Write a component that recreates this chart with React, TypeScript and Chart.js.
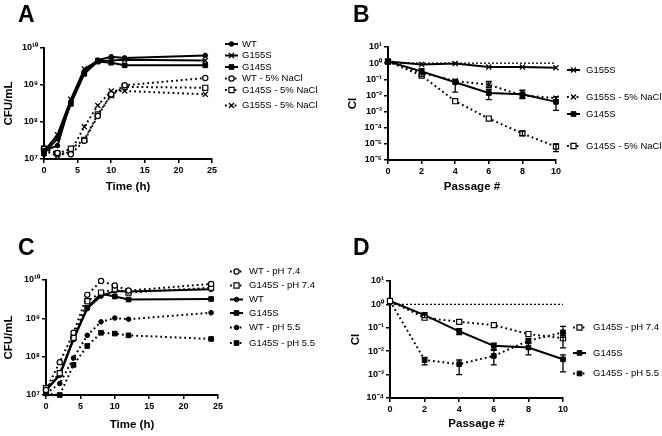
import React, { useEffect, useRef } from "react";
import { Chart, registerables } from "chart.js";
import { drawPoint } from "chart.js/helpers";

Chart.register(...registerables);

const FONT = "'Liberation Sans', Arial, Helvetica, sans-serif";
Chart.defaults.font.family = FONT;
Chart.defaults.color = "#000";

// ---------- Panel A: growth, 5% NaCl ----------
const hoursA = [0, 2, 4, 6, 8, 10, 12, 24];
const aWT = [1.7e7, 2.3e7, 3.6e8, 2.3e9, 4.7e9, 5.8e9, 5.4e9, 6.3e9];
const aG155S = [1.6e7, 4.5e7, 4.1e8, 2.7e9, 4.5e9, 4.6e9, 4.8e9, 4.6e9];
const aG145S = [1.4e7, 3.6e7, 3.1e8, 2.0e9, 4.3e9, 4.0e9, 3.4e9, 3.4e9];
const aWTNaCl = [1.9e7, 1.45e7, 1.35e7, 3.1e7, 1.45e8, 5.6e8, 9.8e8, 1.55e9];
const aG145SNaCl = [1.9e7, 1.4e7, 1.9e7, 3.3e7, 1.6e8, 5.3e8, 8.9e8, 8.4e8];
const aG155SNaCl = [1.7e7, 1.2e7, 1.6e7, 7.4e7, 2.8e8, 6.9e8, 6.9e8, 5.6e8];

// ---------- Panel B: competition index, 5% NaCl ----------
const passages = [0, 2, 4, 6, 8, 10];
const bG155S = [1.26, 0.83, 0.95, 0.57, 0.57, 0.52];
const bG155SNaCl = [1.26, 0.25, 0.078, 0.046, 0.010, 0.0068];
const bG155SNaClLo = [null, null, null, 0.030, 0.0075, 0.0052];
const bG155SNaClHi = [null, null, null, 0.074, 0.014, 0.0085];
const bG145S = [1.26, 0.31, 0.065, 0.014, 0.012, 0.004];
const bG145SLo = [null, 0.15, 0.016, 0.0055, 0.0063, 0.0012];
const bG145SHi = [null, 0.45, 0.10, 0.023, 0.021, 0.0081];
const bG145SNaCl = [1.26, 0.17, 0.0044, 3.7e-4, 4.4e-5, 6.7e-6];
const bG145SNaClLo = [null, null, null, null, 3.2e-5, 3.3e-6];
const bG145SNaClHi = [null, null, null, null, 6.2e-5, 9.8e-6];

// ---------- Panel C: growth, pH ----------
const hoursC = [0, 2, 4, 6, 8, 10, 12, 24];
const cWT74 = [1.35e7, 7.2e7, 4.2e8, 4.1e9, 9.4e9, 7.2e9, 5.3e9, 7.9e9];
const cG145S74 = [1.5e7, 3.7e7, 3.1e8, 2.8e9, 4.7e9, 5.7e9, 4.7e9, 6.3e9];
const cWT = [1.35e7, 3.3e7, 2.8e8, 1.8e9, 3.8e9, 5.2e9, 5.0e9, 5.7e9];
const cG145S = [1.3e7, 3.4e7, 3.0e8, 1.9e9, 4.4e9, 3.7e9, 3.1e9, 3.2e9];
const cWT55 = [1.1e7, 2.0e7, 9.2e7, 3.6e8, 8.1e8, 1.02e9, 9.5e8, 1.4e9];
const cG145S55 = [1.1e7, 1.0e7, 6.1e7, 1.9e8, 4.2e8, 4.0e8, 3.6e8, 2.9e8];

// ---------- Panel D: competition index, pH ----------
const dG145S74 = [1.4, 0.27, 0.18, 0.13, 0.054, 0.036];
const dG145S74Lo = [null, null, null, null, null, 0.014];
const dG145S74Hi = [null, null, null, null, null, 0.06];
const dG145S = [1.4, 0.35, 0.071, 0.017, 0.0144, 0.0045];
const dG145SLo = [null, 0.27, 0.051, 0.012, 0.0069, 0.0013];
const dG145SHi = [null, 0.44, 0.092, 0.022, 0.022, 0.0069];
const dG145S55 = [1.4, 0.0042, 0.0028, 0.0063, 0.028, 0.064];
const dG145S55Lo = [null, 0.0026, 0.001, 0.0026, 0.022, 0.039];
const dG145S55Hi = [null, 0.0055, 0.0042, 0.011, 0.034, 0.116];

// reference line CI = 1
const refX = [0, 10];
const refY = [1, 1];

type Mk = "dot" | "sq" | "ocirc" | "osq" | "x";

function markerStyle(mk: Mk) {
  switch (mk) {
    case "dot":
      return { style: "circle", r: 2.3, fill: "#000", bw: 1 };
      case "sq":
      return { style: "rect", r: 3.3, fill: "#000", bw: 1 };
    case "ocirc":
      return { style: "circle", r: 2.6, fill: "#fff", bw: 1.2 };
    case "osq":
      return { style: "rect", r: 3.6, fill: "#fff", bw: 1.2 };
    default:
      return { style: "crossRot", r: 3.6, fill: "#000", bw: 1.3 };
  }
}

function ds(label: string, xs: number[], ys: number[], dotted: boolean, mk: Mk, lo?: any[], hi?: any[]) {
  const m = markerStyle(mk);
  return {
    label,
    data: xs.map((x, i) => ({ x, y: ys[i] })),
    borderColor: "#000",
    borderWidth: 2,
    borderDash: dotted ? [1.8, 3] : [],
    pointStyle: m.style,
    pointRadius: m.r,
    pointBackgroundColor: m.fill,
    pointBorderColor: "#000",
    pointBorderWidth: m.bw,
    tension: 0,
    fill: false,
    clip: false,
    errLo: lo,
    errHi: hi,
  };
}

function refLine() {
  return {
    label: "",
    noLegend: true,
    data: refX.map((x, i) => ({ x, y: refY[i] })),
    borderColor: "#000",
    borderWidth: 1.2,
    borderDash: [2, 2],
    pointRadius: 0,
    fill: false,
    clip: false,
  };
}

const SUP: Record<string, string> = {
  "0": "⁰", "1": "¹", "2": "²", "3": "³", "4": "⁴",
  "5": "⁵", "6": "⁶", "7": "⁷", "8": "⁸", "9": "⁹", "-": "⁻",
};
function pow10(v: number) {
  const e = Math.round(Math.log10(v));
  return "10" + String(e).split("").map((c) => SUP[c] || c).join("");
}

const errorBars = {
  id: "errorBars",
  afterDatasetsDraw(chart: any) {
    const ctx = chart.ctx;
    const xs = chart.scales.x;
    const ys = chart.scales.y;
    chart.data.datasets.forEach((d: any) => {
      if (!d.errLo) return;
      d.data.forEach((p: any, i: number) => {
        const lo = d.errLo[i];
        const hi = d.errHi[i];
        if (lo == null || hi == null) return;
        const x = xs.getPixelForValue(p.x);
        const y1 = ys.getPixelForValue(lo);
        const y2 = ys.getPixelForValue(hi);
        ctx.save();
        ctx.strokeStyle = "#000";
        ctx.lineWidth = 1.3;
        ctx.setLineDash([]);
        ctx.beginPath();
        ctx.moveTo(x, y1);
        ctx.lineTo(x, y2);
        ctx.moveTo(x - 3, y1);
        ctx.lineTo(x + 3, y1);
        ctx.moveTo(x - 3, y2);
        ctx.lineTo(x + 3, y2);
        ctx.stroke();
        ctx.restore();
      });
    });
  },
};

const panelDeco = {
  id: "panelDeco",
  afterDraw(chart: any, _args: any, opts: any) {
    const ctx = chart.ctx;
    ctx.save();
    ctx.fillStyle = "#000";
    ctx.textAlign = "left";
    ctx.textBaseline = "alphabetic";
    ctx.font = `bold 23px ${FONT}`;
    ctx.fillText(opts.letter, opts.letterX, opts.letterY);
    ctx.font = `9.5px ${FONT}`;
    ctx.textBaseline = "middle";
    let k = 0;
    chart.data.datasets.forEach((d: any) => {
      if (d.noLegend) return;
      const y = opts.legendYs[k++];
      const x0 = opts.legendX;
      ctx.strokeStyle = "#000";
      ctx.lineWidth = 2;
      ctx.setLineDash(d.borderDash || []);
      ctx.beginPath();
      ctx.moveTo(x0, y);
      ctx.lineTo(x0 + 13, y);
      ctx.stroke();
      ctx.setLineDash([]);
      ctx.fillStyle = d.pointBackgroundColor;
      ctx.strokeStyle = "#000";
      ctx.lineWidth = d.pointBorderWidth;
      drawPoint(
        ctx,
        { pointStyle: d.pointStyle, radius: d.pointRadius, borderWidth: d.pointBorderWidth, rotation: 0 } as any,
        x0 + 6.5,
        y
      );
      ctx.fillStyle = "#000";
      ctx.fillText(d.label, opts.textX, y);
    });
    ctx.restore();
  },
};

const W = 331;
const H = 218;

type Geo = {
  L: number; R: number; T: number; B: number;
  yTitle: string; yTitlePad: number;
  xTitle: string; xTitlePad: number;
  xMax: number; xStep: number;
  yMin: number; yMax: number;
};

function makeConfig(g: Geo, datasets: any[], deco: any) {
  const tickFont = { size: 9, weight: "bold" as const, family: FONT };
  const titleFont = { size: 11.5, weight: "bold" as const, family: FONT };
  const grid = { drawOnChartArea: false, drawTicks: true, tickLength: 4, color: "#000", lineWidth: 1.5 };
  const border = { display: true, color: "#000", width: 2 };
  return {
    type: "line" as const,
    data: { datasets },
    plugins: [errorBars, panelDeco],
    options: {
      animation: false as const,
      responsive: false,
      events: [],
      layout: { padding: { left: 0, top: g.T, right: W - g.R, bottom: 0 } },
      plugins: {
        legend: { display: false },
        tooltip: { enabled: false },
        panelDeco: deco,
      },
      scales: {
        x: {
          type: "linear" as const,
          min: 0,
          max: g.xMax,
          afterFit: (s: any) => {
            s.height = H - g.B;
          },
          ticks: { stepSize: g.xStep, font: tickFont, color: "#000", padding: 2, maxRotation: 0 },
          grid,
          border,
          title: { display: true, text: g.xTitle, font: titleFont, color: "#000", padding: { top: 0, bottom: g.xTitlePad } },
        },
        y: {
          type: "logarithmic" as const,
          min: g.yMin,
          max: g.yMax,
          afterFit: (s: any) => {
            s.width = g.L;
          },
          afterBuildTicks: (s: any) => {
            const t: any[] = [];
            const e0 = Math.round(Math.log10(g.yMin));
            const e1 = Math.round(Math.log10(g.yMax));
            for (let e = e0; e <= e1; e++) t.push({ value: Math.pow(10, e) });
            s.ticks = t;
          },
          ticks: {
            callback: (v: any) => pow10(Number(v)),
            font: tickFont,
            color: "#000",
            padding: 2,
            autoSkip: false,
          },
          grid,
          border,
          title: { display: true, text: g.yTitle, font: titleFont, color: "#000", padding: { top: g.yTitlePad, bottom: 0 } },
        },
      },
    },
  };
}

function configA() {
  return makeConfig(
    { L: 44, R: 212, T: 48, B: 159, yTitle: "CFU/mL", yTitlePad: 2, xTitle: "Time (h)", xTitlePad: 24, xMax: 25, xStep: 5, yMin: 1e7, yMax: 1e10 },
    [
      ds("WT", hoursA, aWT, false, "dot"),
      ds("G155S", hoursA, aG155S, false, "x"),
      ds("G145S", hoursA, aG145S, false, "sq"),
      ds("WT - 5% NaCl", hoursA, aWTNaCl, true, "ocirc"),
      ds("G145S - 5% NaCl", hoursA, aG145SNaCl, true, "osq"),
      ds("G155S - 5% NaCl", hoursA, aG155SNaCl, true, "x"),
    ],
    { letter: "A", letterX: 18, letterY: 22, legendX: 225, textX: 242, legendYs: [44, 55.5, 67, 78.5, 90, 105.5] }
  );
}

function configB() {
  return makeConfig(
    { L: 57, R: 225, T: 47, B: 160, yTitle: "CI", yTitlePad: 15, xTitle: "Passage #", xTitlePad: 24, xMax: 10, xStep: 2, yMin: 1e-6, yMax: 10 },
    [
      refLine(),
      ds("G155S", passages, bG155S, false, "x"),
      ds("G155S - 5% NaCl", passages, bG155SNaCl, true, "x", bG155SNaClLo, bG155SNaClHi),
      ds("G145S", passages, bG145S, false, "sq", bG145SLo, bG145SHi),
      ds("G145S - 5% NaCl", passages, bG145SNaCl, true, "osq", bG145SNaClLo, bG145SNaClHi),
    ],
    { letter: "B", letterX: 22, letterY: 22, legendX: 236, textX: 255, legendYs: [70, 97, 114, 146] }
  );
}

function configC() {
  return makeConfig(
    { L: 46, R: 218, T: 62, B: 177, yTitle: "CFU/mL", yTitlePad: 2, xTitle: "Time (h)", xTitlePad: 4, xMax: 25, xStep: 5, yMin: 1e7, yMax: 1e10 },
    [
      ds("WT - pH 7.4", hoursC, cWT74, true, "ocirc"),
      ds("G145S - pH 7.4", hoursC, cG145S74, true, "osq"),
      ds("WT", hoursC, cWT, false, "dot"),
      ds("G145S", hoursC, cG145S, false, "sq"),
      ds("WT - pH 5.5", hoursC, cWT55, true, "dot"),
      ds("G145S - pH 5.5", hoursC, cG145S55, true, "sq"),
    ],
    { letter: "C", letterX: 18, letterY: 37, legendX: 230, textX: 249, legendYs: [53.5, 67.5, 81.5, 95, 109.5, 125] }
  );
}

function configD() {
  return makeConfig(
    { L: 59, R: 232, T: 63, B: 180, yTitle: "CI", yTitlePad: 18, xTitle: "Passage #", xTitlePad: 5, xMax: 10, xStep: 2, yMin: 1e-4, yMax: 10 },
    [
      refLine(),
      ds("G145S - pH 7.4", passages, dG145S74, true, "osq", dG145S74Lo, dG145S74Hi),
      ds("G145S", passages, dG145S, false, "sq", dG145SLo, dG145SHi),
      ds("G145S - pH 5.5", passages, dG145S55, true, "sq", dG145S55Lo, dG145S55Hi),
    ],
    { letter: "D", letterX: 22, letterY: 37, legendX: 242, textX: 262, legendYs: [109.5, 135, 155.5] }
  );
}

function Panel({ make, left, top }: { make: () => any; left: number; top: number }) {
  const ref = useRef<HTMLCanvasElement>(null);
  useEffect(() => {
    const chart = new Chart(ref.current as HTMLCanvasElement, make());
    return () => chart.destroy();
  }, [make]);
  return (
    <canvas
      ref={ref}
      width={W}
      height={H}
      style={{ position: "absolute", left, top, width: W, height: H, display: "block" }}
    />
  );
}

export default function App() {
  return (
    <div style={{ position: "absolute", left: 0, top: 0, width: 662, height: 436, background: "#fff", overflow: "hidden" }}>
      <Panel make={configA} left={0} top={0} />
      <Panel make={configB} left={331} top={0} />
      <Panel make={configC} left={0} top={218} />
      <Panel make={configD} left={331} top={218} />
    </div>
  );
}
